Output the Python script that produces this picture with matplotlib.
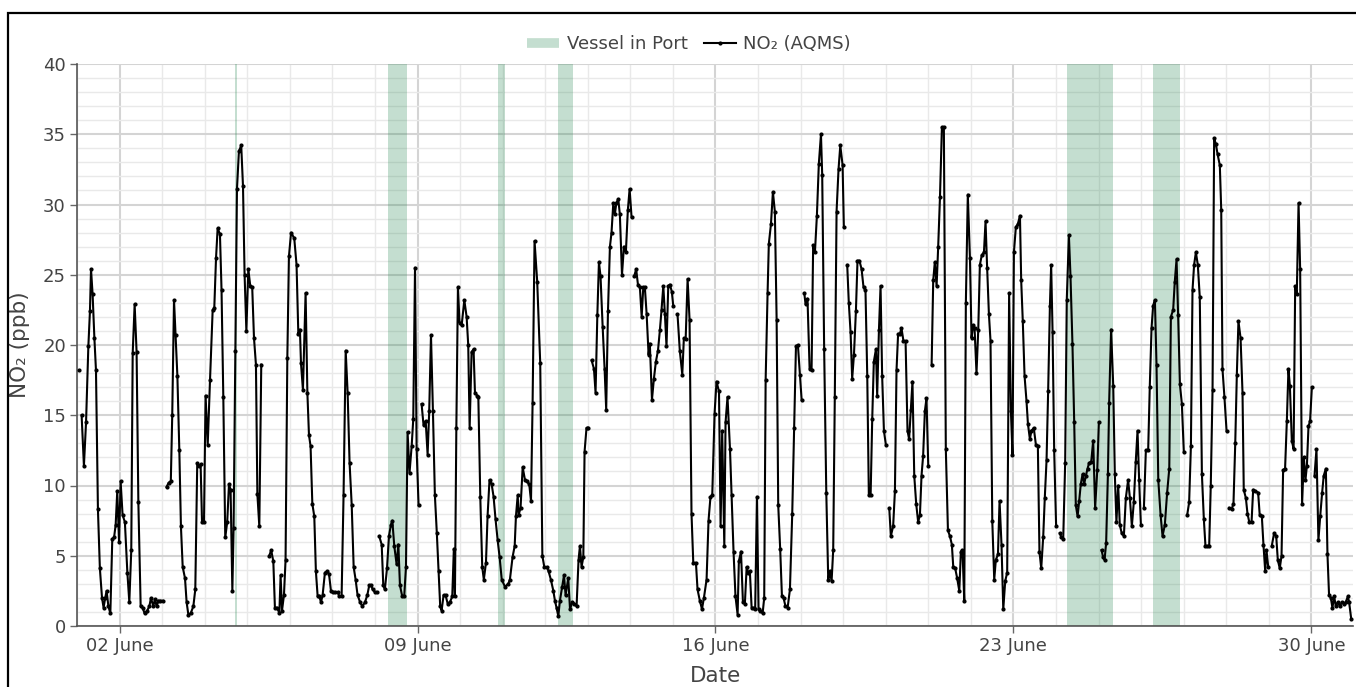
import matplotlib
matplotlib.use("Agg")
import matplotlib.pyplot as plt
import matplotlib.dates as mdates
from matplotlib.lines import Line2D
from matplotlib.patches import Rectangle
from matplotlib.ticker import MultipleLocator
import numpy as np
import pandas as pd

nan = float("nan")

# hourly NO2 readings, hours since 1 June 00:00 (nan = gap in the record)
hours = [
    1.0, 2.0,
    2.6, 3.9, 5.1, 6.4, 7.3, 7.9, 8.8, 9.8, 10.7, 11.8, 12.9, 14.1, 15.0, 15.9, 16.7, 17.7, 18.8,
    19.9, 20.9, 21.8, 22.7, 23.7, 24.6, 25.7, 27.0, 28.4, 29.5, 30.6, 31.4, 32.5, 33.6, 34.6,
    35.9, 37.0, 38.1, 39.6, 40.8, 41.7, 43.0, 43.9, 44.9, 45.8, 46.8, 48.3, 49.5,
    50.5, 51.7, 52.9, 53.7, 54.7, 55.6, 56.6, 57.7, 58.6, 59.6, 60.9, 61.8, 62.8, 64.1, 65.6,
    66.7, 67.8, 68.9, 69.7, 70.5, 71.6, 72.5, 73.7, 75.0, 76.5, 77.4, 78.4, 79.3, 80.6, 81.5,
    82.5, 83.6, 84.7, 85.7, 86.6, 87.6, 88.3, 89.3, 90.2, 91.3, 92.6, 93.6, 94.5, 95.5, 96.6,
    97.7, 98.8, 99.8, 100.9, 101.7, 102.8, 103.9, 106.0,
    108.4, 109.5, 110.7, 111.6, 112.9, 114.1, 114.8, 115.6, 116.7, 117.6, 118.6, 119.5, 120.7,
    122.5, 123.8, 124.8, 125.7, 126.3, 127.4, 128.9, 129.9, 130.8, 131.7, 132.7, 133.8, 134.7,
    135.7, 136.6, 137.6, 138.5, 139.8, 141.0, 142.1, 143.2, 144.3, 145.5, 147.0, 147.9, 149.2,
    150.3, 151.5, 152.6, 153.7, 154.9, 156.0, 157.1, 158.2, 159.6, 160.9, 162.4, 163.7, 164.8,
    165.8, 166.7, 168.0, 169.0, 169.7,
    170.4, 171.8, 172.7, 173.6, 174.8, 175.9, 177.0, 177.8, 178.9, 180.2, 181.2, 182.1, 183.4,
    184.5, 185.5, 186.4, 187.5, 188.7, 189.6, 190.6, 191.5, 192.6, 193.5,
    194.3, 195.4, 196.6, 197.7, 198.6, 199.6, 200.7, 201.8, 202.9, 203.9, 204.8, 205.6, 206.7,
    207.8, 209.0, 210.3, 211.6, 212.5, 213.1, 213.9, 214.8, 215.7, 216.9, 218.4, 219.7, 220.6,
    221.4, 222.5, 223.6, 224.4, 225.7, 226.3, 227.4, 228.5, 229.4, 230.6, 231.5, 232.6, 233.8,
    234.9, 236.0, 237.2, 238.3, 239.5, 241.3, 243.2, 244.1, 245.6, 246.8, 247.5, 248.5, 249.0,
    250.1, 251.3, 252.6, 253.5, 255.0, 256.0, 256.9, 258.0, 259.5, 261.2, 262.4, 263.5, 264.8,
    265.9, 267.2, 268.6, 269.5, 270.4, 271.4, 272.3, 273.6, 274.6, 275.5, 277.0, 278.0, 279.3,
    280.4, 281.7, 282.8, 283.6, 284.5, 285.5, 286.2, 287.3, 288.3, 289.2,
    290.2, 291.5, 292.4, 293.4, 294.3, 295.2, 296.4, 297.5, 298.4, 299.4, 300.5, 301.4, 302.4,
    303.3, 304.1, 305.2, 306.1, 307.3, 308.4, 309.5, 310.6, 311.6, 312.7, 313.5,
    314.2, 315.3, 316.3, 317.4, 318.4, 319.3, 320.2, 321.2, 322.3, 323.0, 324.2, 325.3, 326.4,
    327.6, 328.7, 329.6, 330.6, 331.5, 332.4, 333.4, 334.3, 335.4, 336.2, 337.4,
    338.6, 339.9, 341.3, 342.2, 343.2, 344.3, 345.4, 346.5, 347.5, 349.0, 349.9, 351.2, 352.4,
    353.5, 355.0, 356.1, 357.2, 358.2, 359.5, 360.6, 362.0, 362.9, 363.8, 365.0, 365.7, 366.8,
    368.2, 369.1, 370.2, 371.3, 372.5, 373.2, 374.4, 375.5, 376.6, 377.6, 378.5, 379.4, 380.4,
    381.5, 382.4, 383.4, 384.3, 385.4, 386.6, 387.5, 388.3, 389.4, 390.1, 391.3, 392.4, 393.5,
    394.5, 395.4, 396.5, 397.5, 398.4, 399.5, 400.7, 402.0, 403.3, 404.4, 405.4, 406.5, 407.6,
    408.6, 409.4,
    410.1, 410.8, 411.9, 413.1, 414.2, 415.1, 416.1, 417.2, 418.3, 419.5, 420.2, 421.3, 422.5,
    423.6, 424.5, 425.5, 426.4, 427.3, 428.3, 429.4, 430.4, 431.7, 432.4, 433.4,
    434.3, 435.2, 436.2, 437.1, 438.1, 439.2, 440.1, 441.2, 442.4, 443.5, 444.6, 445.6, 446.5,
    447.5, 448.4, 449.3, 450.5, 451.2, 452.2, 453.1, 454.0, 455.0, 456.1, 457.0,
    458.0, 458.9, 460.2, 461.2, 462.1, 463.0, 464.0, 464.9, 466.0, 467.2, 468.3, 469.2, 470.2,
    471.1, 472.1, 473.2, 474.3, 475.3, 476.2, 477.1, 478.1, 479.0, 480.0, 481.0,
    481.9, 482.8, 483.7, 484.7, 485.6, 486.6, 487.7, 488.8, 489.9, 491.1, 492.2, 493.3, 494.1,
    495.2, 496.3, 497.5, 498.4, 499.3, 500.3, 501.2, 502.3, 503.5, 504.4, 505.3, 506.1, 507.2,
    508.2, 509.1, 510.2, 511.4, 512.3, 513.2, 514.2, 515.1, 516.1, 517.2, 518.1, 519.3, 520.2,
    521.3, 522.3, 523.4, 524.5, 525.6, 526.6, 527.5, 528.3, 529.4, 530.5, 531.7, 532.4, 533.3,
    534.3, 535.4, 536.2, 537.3, 538.2, 539.5, 540.7, 541.8, 542.7, 543.7, 544.8, 545.7, 546.7,
    547.6, 548.6, 549.3, 550.1, 551.0, 552.1, 553.0,
    554.2, 555.1, 556.1, 557.2, 558.1, 559.3, 560.2, 561.3, 562.3, 563.2, 564.2, 565.1, 566.0,
    567.0, 567.9, 568.9, 569.8, 570.7, 571.9, 573.0, 574.1, 575.3, 576.2, 577.0,
    577.7, 578.6, 579.4, 580.3, 581.3, 582.0, 583.1, 584.3, 585.2, 586.1, 587.1, 588.0, 589.1,
    590.3, 591.4, 592.7, 593.7, 594.8, 595.9, 597.0, 598.0, 598.9, 599.9, 600.8,
    601.6, 602.7, 604.0, 604.9, 605.9, 606.8, 607.8, 608.7, 609.7, 611.0, 612.1, 613.4, 614.7,
    615.9, 616.8, 618.1, 619.0, 620.0, 620.9, 621.9, 623.0, 624.1, 625.0,
    626.0, 627.1, 628.1, 629.0, 629.9, 630.9, 632.0, 633.1, 634.3, 635.4, 636.3, 637.3, 638.4,
    639.3, 640.3, 641.2, 642.2, 643.1, 644.4, 645.2, 645.9, 647.0, 648.2, 649.0,
    649.7, 651.0, 652.1, 653.1, 654.0, 654.9, 656.1, 657.2, 657.9, 659.1, 660.0, 661.0, 662.3,
    663.2, 664.5, 666.0, 666.9, 668.1, 669.0, 670.0, 670.7, 671.7, 672.7,
    673.7, 675.0, 676.2, 677.1, 678.2, 679.2, 680.1, 681.2, 682.2, 683.1, 683.9, 685.0, 686.0,
    686.9, 687.8, 688.8, 689.7, 690.8, 691.8, 692.7, 693.5, 694.4, 695.3, 696.3, 697.0,
    697.8, 698.9, 700.0, 701.0, 702.1, 703.0, 704.2, 705.1, 706.0, 707.0, 707.9, 708.9, 709.8,
    710.9, 712.1, 713.2, 714.3, 715.4, 716.6, 717.3, 718.5,
]
no2 = [
    18.2, nan,
    15.0, 11.4, 14.5, 19.9, 22.4, 25.4, 23.6, 20.5, 18.2, 8.3, 4.1, 2.0, 1.3, 2.0, 2.5, 1.4, 0.9,
    6.2, 6.3, 7.2, 9.6, 6.0, 10.3, 7.9, 7.4, 3.8, 1.7, 5.4, 19.4, 22.9, 19.5, 8.8,
    1.4, 1.3, 0.9, 1.1, 1.4, 2.0, 1.4, 1.9, 1.4, 1.8, 1.8, 1.8, nan,
    9.9, 10.2, 10.3, 15.0, 23.2, 20.7, 17.8, 12.5, 7.1, 4.2, 3.4, 1.7, 0.8, 0.9, 1.4,
    2.6, 11.6, 11.4, 11.5, 7.4, 7.4, 16.4, 12.9, 17.5, 22.5, 22.6, 26.2, 28.3, 27.9, 23.9,
    16.3, 6.3, 7.4, 10.1, 9.7, 2.5, 7.0, 19.6, 31.1, 33.8, 34.2, 31.3, 25.0, 21.0, 25.4,
    24.2, 24.1, 20.5, 18.6, 9.4, 7.1, 18.6, nan,
    5.0, 5.4, 4.6, 1.3, 1.3, 0.9, 3.6, 1.1, 2.2, 4.7, 19.1, 26.3, 28.0,
    27.6, 25.7, 20.8, 21.1, 18.7, 16.8, 23.7, 16.6, 13.6, 12.8, 8.7, 7.8, 3.9,
    2.1, 2.1, 1.7, 2.2, 3.8, 3.9, 3.7, 2.5, 2.4, 2.4, 2.4, 2.1, 2.1,
    9.3, 19.6, 16.6, 11.6, 8.6, 4.2, 3.3, 2.2, 1.7, 1.4, 1.7, 2.2, 2.9,
    2.9, 2.6, 2.4, 2.4, nan,
    6.4, 5.8, 2.9, 2.6, 4.1, 6.4, 7.2, 7.5, 5.7, 4.4, 5.8, 2.9, 2.1,
    2.1, 4.2, 13.8, 10.9, 12.8, 14.7, 25.5, 12.6, 8.6, nan,
    15.8, 14.3, 14.6, 12.2, 15.3, 20.7, 15.3, 9.3, 6.6, 3.9, 1.4, 1.1, 2.2,
    2.2, 1.6, 1.7, 2.1, 5.5, 2.1, 14.1, 24.1, 21.6, 21.4, 23.2, 22.0, 20.0,
    14.1, 19.5, 19.7, 16.6, 16.4, 16.3, 9.2, 4.2, 3.3, 4.5, 7.8, 10.4, 10.1,
    9.2, 7.6, 6.1, 4.9, 3.3, 2.8, 3.0, 3.3, 4.9, 5.7, 7.8, 9.3, 7.9,
    8.4, 11.3, 10.4, 10.3, 10.1, 8.9, 15.9, 27.4, 24.5, 18.7, 5.0, 4.2, 4.2,
    3.9, 3.3, 2.5, 1.8, 1.3, 0.7, 1.8, 2.8, 3.6, 2.2, 3.4, 1.2, 1.7,
    1.6, 1.4, 4.7, 5.7, 4.2, 4.9, 12.4, 14.1, 14.1, nan,
    18.9, 18.3, 16.6, 22.1, 25.9, 24.9, 21.3, 18.3, 15.4, 22.4, 27.0, 28.0, 30.1,
    29.3, 30.1, 30.4, 29.3, 25.0, 27.0, 26.6, 29.6, 31.1, 29.1, nan,
    24.9, 25.4, 24.3, 24.1, 22.0, 24.1, 24.1, 22.2, 19.3, 20.1, 16.1, 17.6, 18.8,
    19.6, 21.1, 22.5, 24.2, 22.2, 19.9, 24.2, 24.3, 23.8, 22.8, nan,
    22.2, 19.6, 17.9, 20.5, 20.4, 24.7, 21.8, 8.0, 4.5, 4.5, 2.6, 1.8, 1.2,
    2.0, 3.3, 7.5, 9.2, 9.3, 15.1, 17.4, 16.7, 7.1, 13.9, 5.7, 14.5, 16.3,
    12.6, 9.3, 5.3, 2.1, 0.8, 4.6, 5.3, 1.7, 1.6, 4.2, 3.8, 3.9, 1.3,
    1.3, 1.2, 9.2, 1.2, 1.1, 0.9, 2.0, 17.5, 23.7, 27.2, 28.6, 30.9, 29.5,
    21.8, 8.6, 5.5, 2.1, 2.0, 1.4, 1.3, 2.6, 8.0, 14.1, 19.9, 20.0, 17.9,
    16.1, nan,
    23.7, 22.9, 23.3, 18.3, 18.2, 27.1, 26.6, 29.2, 32.9, 35.0, 32.1, 19.7, 9.5,
    3.3, 3.9, 3.2, 5.4, 16.3, 29.5, 32.5, 34.2, 32.8, 28.4, nan,
    25.7, 23.0, 20.9, 17.6, 19.3, 22.4, 26.0, 26.0, 25.4, 24.1, 23.9, 17.8, 9.3,
    9.3, 14.7, 18.8, 19.7, 16.4, 21.1, 24.2, 17.8, 13.9, 12.9, nan,
    8.4, 6.4, 7.1, 9.6, 18.2, 20.8, 20.8, 21.2, 20.3, 20.3, 13.9, 13.3, 15.4,
    17.4, 10.7, 8.7, 7.4, 7.9, 10.7, 12.1, 15.3, 16.2, 11.4, nan,
    18.6, 24.6, 25.9, 24.2, 27.0, 30.5, 35.5, 35.5, 12.6, 6.8, 6.4, 5.8, 4.2,
    4.1, 3.4, 2.5, 5.3, 5.4, 1.8, 23.0, 30.7, 26.2, 20.5, 21.4, 21.2, 18.0,
    21.1, 25.7, 26.4, 26.6, 28.8, 25.5, 22.2, 20.3, 7.5, 3.3, 4.7, 5.1, 8.9,
    5.8, 1.2, 3.2, 3.8, 23.7, 15.3, 12.2, 26.6, 28.4, 28.6, 29.2, 24.6, 21.7,
    17.8, 16.0, 14.4, 13.3, 13.9, 14.1, 12.9, 12.8, 5.3, 4.1, 6.3, 9.1, 11.8,
    16.7, 22.8, 25.7, 20.9, 12.5, 7.1, nan,
    6.6, 6.3, 6.2, 11.6, 23.2, 27.8, 24.9, 20.1, 14.5, 8.6, 7.8, 8.9, 10.1,
    10.8, 10.1, 10.7, 11.2, 11.6, 11.7, 13.2, 8.4, 11.1, 14.5, nan,
    5.4, 4.9, 4.7, 5.9, 10.8, 15.9, 21.1, 17.1, 10.8, 7.4, 10.0, 7.2, 6.6,
    6.4, 9.1, 10.4, 9.1, 7.1, 8.8, 11.7, 13.9, 10.4, 7.2, nan,
    8.4, 12.5, 12.5, 17.0, 21.2, 22.8, 23.2, 18.6, 10.4, 7.9, 6.4, 7.2, 9.5,
    11.2, 22.0, 22.5, 24.5, 26.1, 22.1, 17.2, 15.8, 12.4, nan,
    7.9, 8.8, 12.8, 23.9, 25.7, 26.6, 25.7, 23.4, 10.8, 7.6, 5.7, 5.7, 5.7,
    10.0, 16.8, 34.7, 34.3, 33.6, 32.8, 29.6, 18.3, 16.3, 13.9, nan,
    8.4, 8.3, 8.7, 13.0, 17.9, 21.7, 20.5, 16.6, 9.7, 9.1, 8.0, 7.4, 7.4,
    9.7, 9.6, 9.5, 7.9, 7.8, 5.8, 3.9, 5.4, 4.2, nan,
    5.7, 6.6, 6.4, 4.7, 4.1, 5.0, 11.1, 11.2, 14.6, 18.3, 17.1, 13.2, 12.6,
    24.2, 23.6, 30.1, 25.4, 8.7, 12.0, 10.4, 11.4, 14.2, 14.6, 17.0, nan,
    10.7, 12.6, 6.1, 7.8, 9.5, 10.7, 11.2, 5.1, 2.2, 2.0, 1.3, 2.1, 1.4,
    1.7, 1.4, 1.7, 1.6, 1.7, 2.1, 1.7, 0.5,
]

# periods with a vessel in port (start hour, end hour)
port_start = [88.9, 175.3, 237.5, 271.5, 558.5, 606.8]
port_end = [90.1, 186.1, 241.3, 279.7, 583.9, 622.2]

month_start = pd.Timestamp("2024-06-01")
times = month_start + pd.to_timedelta(hours, unit="h")

W, H = 1356, 687
fig = plt.figure(figsize=(W / 100, H / 100), dpi=100)
ax = fig.add_axes([77 / W, 1 - 626 / H, 1276 / W, 562 / H])

text_col = "#444444"
band_col = "seagreen"
band_alpha = 0.28

for s, e in zip(port_start, port_end):
    ax.axvspan(month_start + pd.Timedelta(hours=s), month_start + pd.Timedelta(hours=e),
               color=band_col, alpha=band_alpha, lw=0, zorder=1)

ax.plot(times, no2, color="black", lw=1.5, marker="o", ms=2.0, zorder=3)

ax.set_xlim(month_start, month_start + pd.Timedelta(hours=719.5))
ax.set_ylim(0, 40)

ax.xaxis.set_major_locator(mdates.DayLocator(bymonthday=[2, 9, 16, 23, 30]))
ax.xaxis.set_major_formatter(mdates.DateFormatter("%d June"))
ax.xaxis.set_minor_locator(mdates.DayLocator())
ax.yaxis.set_major_locator(MultipleLocator(5))
ax.yaxis.set_minor_locator(MultipleLocator(1))

ax.set_axisbelow(True)
ax.grid(which="major", color="#d4d4d4", lw=1.5)
ax.grid(which="minor", color="#e9e9e9", lw=1.0)

ax.tick_params(which="major", direction="out", length=5, width=1, color="#666666",
               labelsize=13, labelcolor=text_col, pad=3)
ax.tick_params(which="minor", length=0)

for side in ["top", "right"]:
    ax.spines[side].set_visible(False)
for side in ["left", "bottom"]:
    ax.spines[side].set_color("#555555")
    ax.spines[side].set_linewidth(1.2)

ax.set_ylabel("NO₂ (ppb)", fontsize=15.5, color=text_col, labelpad=9)
ax.set_xlabel("Date", fontsize=15.5, color=text_col, labelpad=8)

handles = [
    Line2D([], [], color=band_col, alpha=band_alpha, lw=7, solid_capstyle="butt"),
    Line2D([], [], color="black", lw=1.5, marker="o", ms=2.0),
]
fig.legend(handles, ["Vessel in Port", "NO₂ (AQMS)"], loc="center",
           bbox_to_anchor=(689 / W, 1 - 44 / H), ncol=2, frameon=False,
           fontsize=13, labelcolor=text_col, handlelength=1.8,
           handletextpad=0.4, columnspacing=0.9)

# outer frame around the figure
fig.patches.append(Rectangle((8 / W, -0.1), 1.2, 1.1 - 13 / H,
                             transform=fig.transFigure, fill=False,
                             edgecolor="black", lw=1.6))

fig.savefig("out.png", dpi=100)
